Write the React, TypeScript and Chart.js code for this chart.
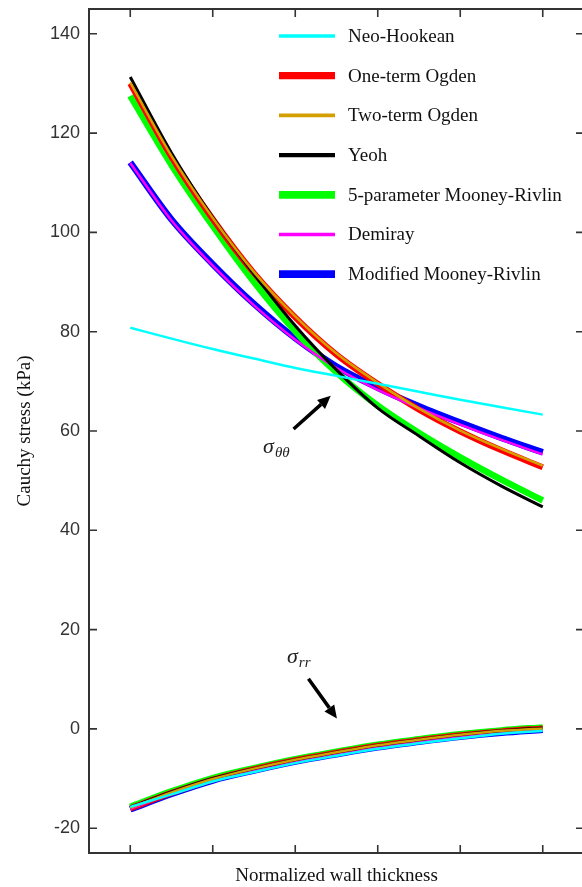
import React, { useEffect, useRef } from 'react';
import { Chart, registerables } from 'chart.js';
Chart.register(...registerables);

// ---- data ----
const xs = [0, 0.1, 0.2, 0.3, 0.4, 0.5, 0.6, 0.7, 0.8, 0.9, 1.0];
const xTickValues = [0, 0.2, 0.4, 0.6, 0.8, 1.0];
const yTickValues = [-20, 0, 20, 40, 60, 80, 100, 120, 140];

const modelNames = [
  'Neo-Hookean',
  'One-term Ogden',
  'Two-term Ogden',
  'Yeoh',
  '5-parameter Mooney-Rivlin',
  'Demiray',
  'Modified Mooney-Rivlin',
];

// circumferential stress sigma_theta-theta (kPa)
const neoHookeanTT = [80.8, 78.6, 76.5, 74.6, 72.7, 71.1, 69.5, 67.9, 66.3, 64.8, 63.3];
const oneOgdenTT = [130.0, 115.2, 102.7, 91.8, 82.9, 75.4, 69.5, 64.3, 59.9, 56.1, 52.7];
const twoOgdenTT = [130.2, 115.4, 102.9, 92.0, 83.1, 75.6, 69.7, 64.5, 60.1, 56.4, 53.0];
const yeohTT = [131.3, 116.0, 103.0, 91.6, 81.2, 72.3, 64.6, 59.0, 53.6, 48.9, 44.7];
const mr5TT = [127.5, 113.6, 101.3, 90.0, 80.1, 71.8, 65.1, 59.6, 54.7, 50.2, 46.0];
const demirayTT = [114.0, 102.4, 93.3, 85.3, 78.4, 72.7, 68.3, 64.6, 61.3, 58.2, 55.3];
const modMrTT = [114.1, 102.6, 93.6, 85.6, 78.7, 73.0, 68.7, 65.0, 61.7, 58.6, 55.7];

// radial stress sigma_rr (kPa)
const neoHookeanRR = [-15.7, -13.2, -10.6, -8.7, -6.9, -5.4, -4.0, -2.9, -1.9, -1.0, -0.4];
const oneOgdenRR = [-16.0, -12.9, -10.2, -8.1, -6.3, -4.8, -3.4, -2.3, -1.3, -0.5, 0.1];
const twoOgdenRR = [-15.9, -12.8, -10.1, -8.0, -6.2, -4.7, -3.3, -2.2, -1.2, -0.4, 0.1];
const yeohRR = [-15.8, -12.7, -10.0, -8.0, -6.2, -4.7, -3.3, -2.2, -1.2, -0.4, 0.2];
const mr5RR = [-15.7, -12.6, -9.9, -7.9, -6.1, -4.6, -3.2, -2.1, -1.1, -0.3, 0.3];
const demirayRR = [-16.1, -13.0, -10.4, -8.4, -6.6, -5.1, -3.7, -2.6, -1.6, -0.8, -0.2];
const modMrRR = [-16.2, -13.1, -10.4, -8.4, -6.6, -5.1, -3.7, -2.6, -1.6, -0.8, -0.2];

const ttSeries = [neoHookeanTT, oneOgdenTT, twoOgdenTT, yeohTT, mr5TT, demirayTT, modMrTT];
const rrSeries = [neoHookeanRR, oneOgdenRR, twoOgdenRR, yeohRR, mr5RR, demirayRR, modMrRR];

// ---- styles ----
const colors = ['#00FFFF', '#FF0000', '#D4A000', '#000000', '#00FF00', '#FF00FF', '#0000FF'];
const widths = [2.5, 6, 2.5, 3, 6.5, 2.5, 6.5];
const drawOrder = [0, 2, 1, 1, 3, 1, 4];

// annotation anchors (data units)
const thetaLabelPos = { x: 0.322, y: 55.6 };
const thetaArrow = { from: { x: 0.396, y: 60.4 }, to: { x: 0.486, y: 67.1 } };
const rrLabelPos = { x: 0.38, y: 13.3 };
const rrArrow = { from: { x: 0.432, y: 10.1 }, to: { x: 0.501, y: 2.1 } };

function buildPoints(tt: number[], rr: number[]) {
  const a = xs.map((x, i) => ({ x, y: tt[i] as number | null }));
  const b = xs.map((x, i) => ({ x, y: rr[i] as number | null }));
  return [...a, { x: 1.05, y: null }, ...b];
}

const SERIF = '"Liberation Serif", "Times New Roman", serif';

function drawArrow(ctx: CanvasRenderingContext2D, x1: number, y1: number, x2: number, y2: number) {
  const ang = Math.atan2(y2 - y1, x2 - x1);
  const head = 13;
  const hw = 6;
  const bx = x2 - head * Math.cos(ang);
  const by = y2 - head * Math.sin(ang);
  ctx.beginPath();
  ctx.moveTo(x1, y1);
  ctx.lineTo(bx, by);
  ctx.lineWidth = 3.5;
  ctx.strokeStyle = '#000';
  ctx.stroke();
  ctx.beginPath();
  ctx.moveTo(x2, y2);
  ctx.lineTo(bx + hw * Math.sin(ang), by - hw * Math.cos(ang));
  ctx.lineTo(bx - hw * Math.sin(ang), by + hw * Math.cos(ang));
  ctx.closePath();
  ctx.fillStyle = '#000';
  ctx.fill();
}

const decorPlugin = {
  id: 'decor',
  afterDraw(chart: any) {
    const { ctx, chartArea: a, scales } = chart;
    const xS = scales.x;
    const yS = scales.y;
    ctx.save();
    // frame
    ctx.strokeStyle = '#333';
    ctx.lineWidth = 2;
    ctx.strokeRect(a.left, a.top, a.right - a.left, a.bottom - a.top);
    // inward ticks
    ctx.lineWidth = 1.6;
    ctx.beginPath();
    for (const v of xTickValues) {
      const px = xS.getPixelForValue(v);
      ctx.moveTo(px, a.bottom);
      ctx.lineTo(px, a.bottom - 8);
      ctx.moveTo(px, a.top);
      ctx.lineTo(px, a.top + 8);
    }
    for (const v of yTickValues) {
      const py = yS.getPixelForValue(v);
      ctx.moveTo(a.left, py);
      ctx.lineTo(a.left + 8, py);
      ctx.moveTo(a.right, py);
      ctx.lineTo(a.right - 8, py);
    }
    ctx.stroke();

    // legend
    const lx = a.left + 190;
    const ly = a.top + 27;
    const step = 39.7;
    ctx.font = `19px ${SERIF}`;
    ctx.textBaseline = 'middle';
    ctx.textAlign = 'left';
    chart.data.datasets.forEach((ds: any, i: number) => {
      const y = ly + i * step;
      ctx.beginPath();
      ctx.moveTo(lx, y);
      ctx.lineTo(lx + 56, y);
      ctx.strokeStyle = ds.borderColor;
      ctx.lineWidth = ds.borderWidth + 1.2;
      ctx.stroke();
      ctx.fillStyle = '#111';
      ctx.fillText(ds.label, lx + 69, y + 1);
    });

    // annotations
    ctx.textBaseline = 'alphabetic';
    ctx.fillStyle = '#222';
    const tx = xS.getPixelForValue(thetaLabelPos.x);
    const ty = yS.getPixelForValue(thetaLabelPos.y);
    ctx.font = `italic 22px ${SERIF}`;
    ctx.fillText('σ', tx, ty);
    let w = ctx.measureText('σ').width;
    ctx.font = `italic 15px ${SERIF}`;
    ctx.fillText('θθ', tx + w + 1, ty + 4);

    const rx = xS.getPixelForValue(rrLabelPos.x);
    const ry = yS.getPixelForValue(rrLabelPos.y);
    ctx.font = `italic 22px ${SERIF}`;
    ctx.fillText('σ', rx, ry);
    w = ctx.measureText('σ').width;
    ctx.font = `italic 15px ${SERIF}`;
    ctx.fillText('rr', rx + w + 1, ry + 4);

    drawArrow(
      ctx,
      xS.getPixelForValue(thetaArrow.from.x), yS.getPixelForValue(thetaArrow.from.y),
      xS.getPixelForValue(thetaArrow.to.x), yS.getPixelForValue(thetaArrow.to.y)
    );
    drawArrow(
      ctx,
      xS.getPixelForValue(rrArrow.from.x), yS.getPixelForValue(rrArrow.from.y),
      xS.getPixelForValue(rrArrow.to.x), yS.getPixelForValue(rrArrow.to.y)
    );
    ctx.restore();
  },
};

export default function App() {
  const ref = useRef<HTMLCanvasElement | null>(null);
  useEffect(() => {
    if (!ref.current) return;
    const datasets = modelNames.map((name, i) => ({
      label: name,
      data: buildPoints(ttSeries[i], rrSeries[i]),
      borderColor: colors[i],
      backgroundColor: colors[i],
      borderWidth: widths[i],
      pointRadius: 0,
      fill: false,
      spanGaps: false,
      cubicInterpolationMode: 'monotone' as const,
      order: drawOrder[i],
    }));
    const chart = new Chart(ref.current, {
      type: 'line',
      data: { datasets },
      plugins: [decorPlugin],
      options: {
        animation: false,
        responsive: false,
        maintainAspectRatio: false,
        devicePixelRatio: 1,
        layout: { padding: { top: 9, right: 16, bottom: 0, left: 0 } },
        plugins: { legend: { display: false }, tooltip: { enabled: false } },
        scales: {
          x: {
            type: 'linear',
            min: -0.1,
            max: 1.1,
            grid: { display: false, drawTicks: false },
            border: { display: false },
            ticks: { display: false },
            title: {
              display: true,
              text: 'Normalized wall thickness',
              color: '#111',
              font: { family: SERIF, size: 19 },
              padding: { top: 0, bottom: 0 },
            },
            afterFit(s: any) { s.height = 34; s.paddingLeft = 0; s.paddingRight = 0; },
          },
          y: {
            type: 'linear',
            min: -25,
            max: 145,
            afterBuildTicks(s: any) { s.ticks = yTickValues.map((v) => ({ value: v })); },
            grid: { display: false, drawTicks: false },
            border: { display: false },
            ticks: {
              padding: 9,
              color: '#333',
              font: { family: '"Liberation Sans", Arial, sans-serif', size: 18 },
            },
            title: {
              display: true,
              text: 'Cauchy stress (kPa)',
              color: '#111',
              font: { family: SERIF, size: 19 },
              padding: { top: 14, bottom: 0 },
            },
            afterFit(s: any) { s.width = 89; s.paddingTop = 0; s.paddingBottom = 0; },
          },
        },
      } as any,
    });
    return () => chart.destroy();
  }, []);
  return (
    <div style={{ position: 'fixed', left: 0, top: 0, width: 582, height: 887, overflow: 'hidden', background: '#fff' }}>
      <canvas ref={ref} width={600} height={887} style={{ display: 'block', width: 600, height: 887 }} />
    </div>
  );
}
